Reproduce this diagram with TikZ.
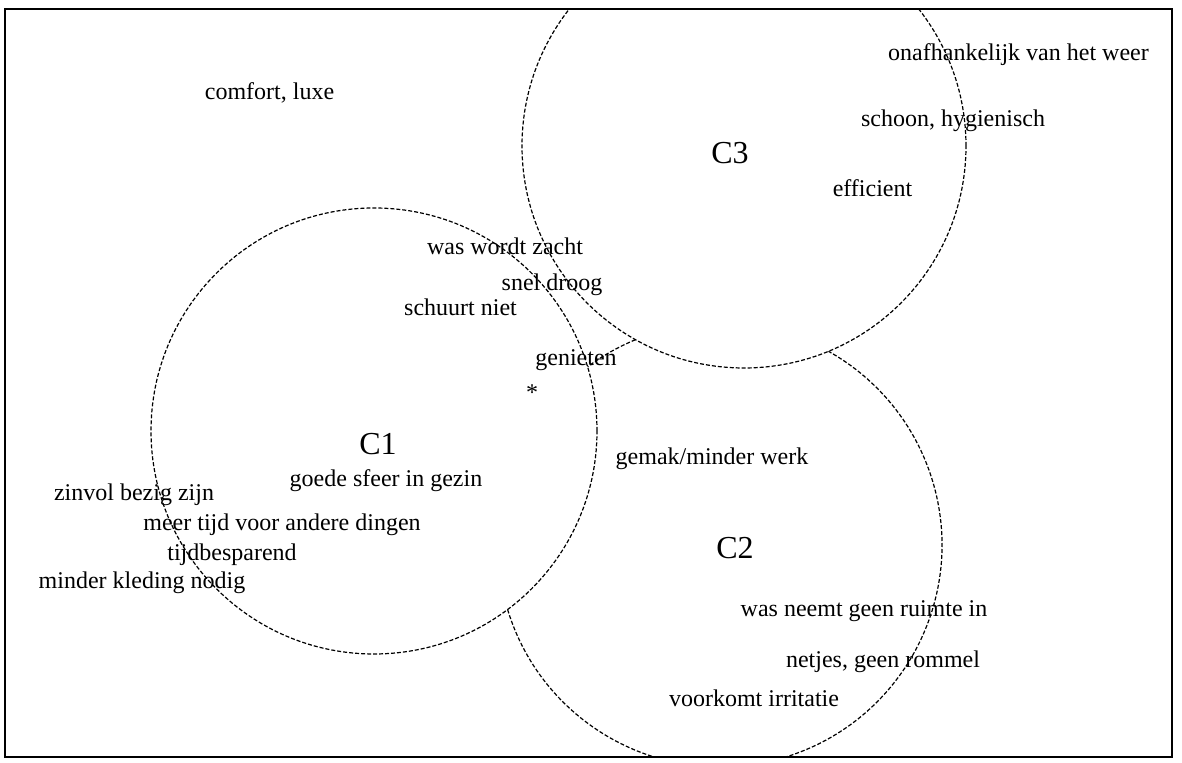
\documentclass[tikz,border=0pt]{standalone}
\usepackage{fontspec}
\setmainfont{Liberation Serif}
\usepackage{tikz}
\usetikzlibrary{positioning}
\tikzstyle{word} = [font=\fontsize{12}{14}\selectfont, anchor=base, inner sep=0pt]
\tikzstyle{clustername} = [font=\fontsize{16}{19}\selectfont, anchor=base, inner sep=0pt]
\tikzstyle{clusterline} = [dash pattern=on 2pt off 1pt, line width=0.6pt]
\tikzstyle{frame} = [line width=1.1pt]

\begin{document}
\begin{tikzpicture}[x=0.5pt, y=0.5pt]
        \useasboundingbox (0,0) rectangle (1182,763);
        \coordinate (centreA) at (374,332);
        \coordinate (centreB) at (720,218);
        \coordinate (centreC) at (744,617);

        \begin{scope}
            \clip (5,6) rectangle (1172,754);
            \draw [clusterline] (centreA) circle [radius=111.5pt];
            \draw [clusterline] (centreC) circle [radius=111pt];
            \draw [clusterline] (centreB) ++(112.4:111pt) arc [start angle=112.4, end angle=126.6, radius=111pt];
            \draw [clusterline] (centreB) ++(196.9:111pt) arc [start angle=196.9, end angle=420.75, radius=111pt];
        \end{scope}
        \draw [frame] (5,6) rectangle (1172,754);

        \node (c1) [clustername] at (378,308) {C1};
        \node (c2) [clustername] at (735,204) {C2};
        \node (c3) [clustername] at (730,599) {C3};

        \node (comfortLuxe) [word] at (269.5,663) {comfort, luxe};
        \node (onafhankelijk) [word] at (1018.5,702) {onafhankelijk van het weer};
        \node (schoon) [word] at (953,636) {schoon, hygienisch};
        \node (efficient) [word] at (872.5,566) {efficient};
        \node (wasZacht) [word] at (505,508) {was wordt zacht};
        \node (snelDroog) [word] at (552,472) {snel droog};
        \node (schuurtNiet) [word] at (460.5,447) {schuurt niet};
        \node (genieten) [word] at (576,397) {genieten};
        \node (star) [word] at (532,362) {*};
        \node (goedeSfeer) [word] at (386,276) {goede sfeer in gezin};
        \node (gemak) [word] at (712,298) {gemak/minder werk};
        \node (zinvol) [word] at (134,262) {zinvol bezig zijn};
        \node (meerTijd) [word] at (282,232) {meer tijd voor andere dingen};
        \node (tijdBesparend) [word] at (232,202) {tijdbesparend};
        \node (minderKleding) [word] at (142,174) {minder kleding nodig};
        \node (wasRuimte) [word] at (864,146) {was neemt geen ruimte in};
        \node (netjes) [word] at (883,95) {netjes, geen rommel};
        \node (irritatie) [word] at (754,56) {voorkomt irritatie};
    \end{tikzpicture}
\end{document}
